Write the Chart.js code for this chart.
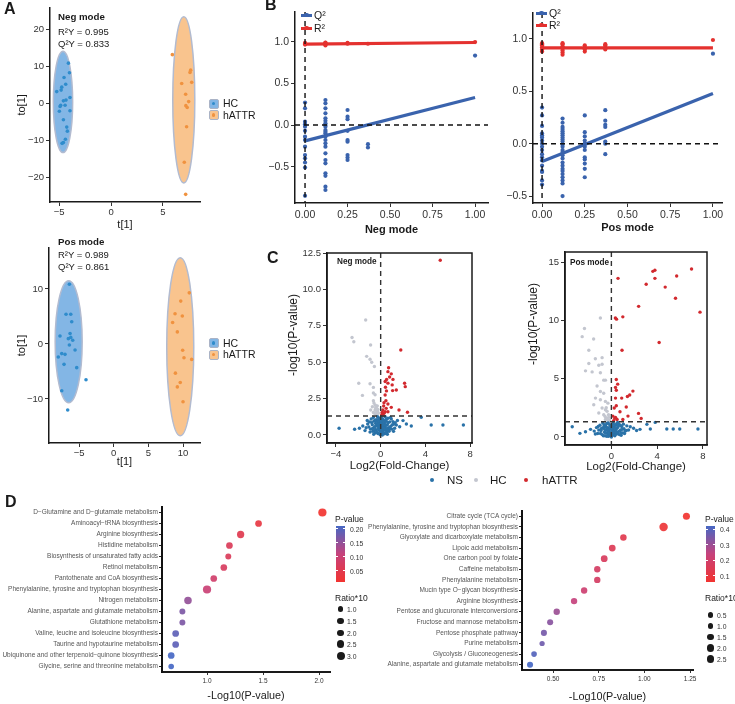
<!DOCTYPE html>
<html>
<head>
<meta charset="utf-8">
<title>OPLS-DA, permutation, volcano and pathway plots</title>
<script src="https://cdn.jsdelivr.net/npm/chart.js@4.4.1/dist/chart.umd.min.js"></script>
<style>
  body { margin: 0; width: 735px; height: 704px; position: relative; overflow: hidden; background: #fff; }
  canvas { position: absolute; left: 0; top: 0; }
  .t { position: absolute; white-space: nowrap; line-height: 1; color: #1a1a1a; }
</style>
</head>
<body>
<script>
// ---- A: OPLS-DA scores ----
const negHC_t = [-4.1, -4.0, -4.52, -4.74, -4.8, -4.36, -5.22, -4.58, -4.33, -3.95, -4.84, -4.9, -4.42, -4.97, -3.95, -4.58, -4.26, -4.2, -4.39, -4.58, -4.71]
const negHC_to = [10.9, 8.3, 7.0, 4.4, 3.6, 5.2, 3.2, 0.7, 0.9, 1.6, -0.5, -0.8, -0.5, -2.1, -2.0, -4.4, -6.4, -7.5, -9.7, -10.6, -10.8]
const negAT_t = [5.9, 7.66, 7.6, 6.8, 7.76, 7.18, 7.47, 7.2, 7.33, 7.27, 7.05, 7.18]
const negAT_to = [13.2, 9.0, 8.4, 5.4, 5.7, 2.5, 0.5, -0.6, -1.1, -6.3, -15.9, -24.6]
const posHC_t = [-6.4, -6.88, -6.2, -6.06, -7.75, -6.3, -6.55, -5.92, -6.2, -6.4, -5.58, -7.5, -7.03, -8.0, -7.17, -5.34, -4.0, -7.5, -6.64]
const posHC_to = [10.85, 5.4, 5.4, 4.05, 1.45, 1.9, 0.97, 0.67, 1.2, -0.18, -1.1, -1.75, -1.88, -2.36, -3.7, -4.3, -6.5, -8.5, -12.0]
const posAT_t = [10.9, 9.67, 8.85, 9.9, 8.5, 9.18, 9.95, 10.14, 11.25, 8.9, 9.6, 9.18, 10.0]
const posAT_to = [9.3, 7.8, 5.5, 5.1, 3.9, 2.2, -1.15, -2.5, -2.8, -5.3, -7.0, -7.8, -10.5]
// confidence ellipses [centre t, centre to, half-width, half-height] for HC, hATTR
const negEllipses = [[-4.62, 0.4, 0.93, 13.7], [7.0, 0.95, 1.06, 22.5]]
const posEllipses = [[-6.5, 0.4, 1.95, 11.1], [9.6, -0.5, 1.95, 16.2]]
const negStats = ['R\u00b2Y = 0.995', 'Q\u00b2Y = 0.833']
const posStats = ['R\u00b2Y = 0.989', 'Q\u00b2Y = 0.861']
const aNegXTicks = [-5, 0, 5]
const aNegYTicks = [-20, -10, 0, 10, 20]
const aPosXTicks = [-5, 0, 5, 10]
const aPosYTicks = [-10, 0, 10]

// ---- B: permutation tests ----
const permX = [0, 0.12, 0.25, 0.37, 1]
const negQ2 = [
    [0.27, 0.2, 0.04, 0.01, -0.02, -0.07, -0.14, -0.18, -0.26, -0.36, -0.4, -0.45, -0.51, -0.85],
    [0.3, 0.26, 0.2, 0.14, 0.08, 0.05, 0.02, 0.0, -0.02, -0.06, -0.08, -0.1, -0.14, -0.18, -0.22, -0.26, -0.34, -0.42, -0.46, -0.58, -0.61, -0.74, -0.78],
    [0.18, 0.1, 0.07, -0.07, -0.18, -0.2, -0.36, -0.39, -0.42],
    [-0.23, -0.27],
    [0.833]
]
const negR2 = [[0.965, 0.975, 0.985], [0.955, 0.965, 0.975, 0.985, 0.99], [0.975, 0.985], [0.975], [0.995]]
const negFitQ2 = [-0.19, 0.33]
const negFitR2 = [0.97, 0.99]
const posQ2 = [
    [0.345, 0.27, 0.17, 0.1, 0.08, 0.06, 0.03, 0.0, -0.03, -0.06, -0.1, -0.13, -0.16, -0.21, -0.26, -0.27, -0.35, -0.39],
    [0.24, 0.2, 0.16, 0.14, 0.12, 0.1, 0.08, 0.06, 0.04, 0.02, -0.01, -0.03, -0.06, -0.08, -0.11, -0.14, -0.18, -0.21, -0.24, -0.26, -0.29, -0.32, -0.35, -0.38, -0.5],
    [0.27, 0.11, 0.07, 0.03, 0.0, -0.03, -0.06, -0.13, -0.15, -0.19, -0.24, -0.32],
    [0.32, 0.22, 0.18, 0.16, 0.02, 0.0, -0.1],
    [0.86]
]
const posR2 = [[0.88, 0.9, 0.92, 0.94, 0.95, 0.96], [0.85, 0.87, 0.89, 0.91, 0.93, 0.95, 0.96], [0.88, 0.9, 0.92, 0.94], [0.9, 0.92, 0.94, 0.95], [0.99]]
const posFitQ2 = [-0.17, 0.48]
const posFitR2 = [0.915, 0.915]
const bXTicks = [0, 0.25, 0.5, 0.75, 1]
const bYTicks = [-0.5, 0, 0.5, 1]

// ---- C: volcano plots, [log2 fold change, -log10 p] ----
const negNS = [[-3.72, 0.46], [-2.33, 0.39], [-1.9, 0.46], [-1.6, 0.62], [-1.16, 0.76], [-1.3, 0.5], [-1.0, 0.9], [-0.9, 0.4], [-0.85, 1.1], [-0.75, 0.7], [-0.7, 0.25], [-0.65, 1.2], [-0.6, 0.95], [-0.55, 0.55], [-0.5, 0.15], [-0.45, 0.8], [-0.4, 1.05], [-0.38, 0.35], [-0.3, 0.6], [-0.28, 1.25], [-0.25, 0.1], [-0.2, 0.85], [-0.18, 0.45], [-0.12, 1.15], [-0.1, 0.3], [-0.08, 0.7], [-0.05, 0.02], [-0.03, 0.95], [0.0, 0.5], [0.03, 0.2], [0.05, 1.2], [0.08, 0.65], [0.1, 0.05], [0.12, 0.9], [0.15, 0.4], [0.18, 1.1], [0.2, 0.15], [0.22, 0.75], [0.25, 0.3], [0.28, 1.0], [0.3, 0.55], [0.35, 0.08], [0.38, 0.85], [0.4, 1.25], [0.45, 0.45], [0.5, 0.35], [0.5, 0.95], [0.55, 0.2], [0.6, 0.7], [0.65, 1.15], [0.7, 0.5], [0.75, 0.25], [0.8, 0.9], [0.9, 0.6], [0.95, 1.1], [1.0, 0.4], [1.1, 0.92], [1.2, 0.75], [1.25, 0.46], [1.4, 0.69], [1.5, 1.0], [1.7, 0.57], [2.0, 0.99], [2.3, 0.76], [2.74, 0.62], [3.63, 1.22], [4.52, 0.69], [5.57, 0.69], [7.4, 0.69], [-0.15, 0.6], [0.42, 0.62], [-0.35, 0.95], [0.15, 0.0], [-0.02, 0.1], [0.6, 0.05],
    [-1.4, 0.3], [-1.2, 1.0], [-1.05, 0.55], [-0.95, 0.2], [-0.8, 0.85], [-0.72, 0.45], [-0.62, 0.05], [-0.52, 1.0], [-0.48, 0.38], [-0.42, 0.65], [-0.33, 0.18], [-0.22, 1.05], [-0.14, 0.38], [-0.06, 0.55], [0.02, 0.8], [0.06, 0.32], [0.13, 0.6], [0.17, 0.28], [0.24, 0.5], [0.27, 0.1], [0.33, 0.72], [0.37, 0.4], [0.44, 0.15], [0.48, 0.68], [0.52, 1.1], [0.58, 0.42], [0.68, 0.85], [0.72, 0.32], [0.85, 0.45], [0.88, 1.2], [1.05, 0.7], [1.15, 0.25], [1.3, 0.85], [-0.25, 0.75], [-0.58, 0.3], [0.1, 1.0], [-0.02, 0.28], [0.2, 0.95]]
const negHCv = [[-2.56, 6.7], [-2.4, 6.4], [-0.9, 6.18], [-1.25, 5.4], [-0.95, 5.2], [-0.8, 5.0], [-0.56, 4.7], [-1.96, 3.55], [-0.95, 3.52], [-0.65, 3.27], [-1.63, 2.72], [-0.65, 2.88], [-0.5, 2.76], [-0.65, 2.36], [-0.5, 2.06], [-0.74, 1.94], [-0.35, 1.83], [-0.89, 1.72], [-0.5, 1.72], [-0.27, 1.6], [-0.65, 1.54], [-0.41, 1.99], [-1.34, 7.9], [-0.45, 1.45], [-0.3, 1.4], [-0.55, 1.5],
    [-0.2, 1.5], [-0.35, 1.6], [-0.25, 1.75], [-0.45, 1.85], [-0.3, 2.0], [-0.6, 2.2]]
const negATv = [[5.33, 12.0], [1.8, 5.84], [0.71, 4.62], [0.65, 4.35], [0.95, 4.2], [0.8, 3.98], [1.1, 3.82], [0.53, 3.82], [0.4, 3.67], [0.65, 3.56], [2.14, 3.55], [2.2, 3.32], [1.03, 3.44], [0.43, 3.28], [1.4, 3.09], [1.07, 3.05], [0.52, 3.03], [0.4, 2.75], [0.47, 2.36], [0.3, 2.22], [0.65, 2.13], [0.27, 1.99], [0.5, 1.83], [1.64, 1.72], [2.4, 1.56], [0.95, 1.9], [0.2, 1.72], [0.4, 1.6], [0.65, 1.6], [0.13, 1.54], [0.3, 1.49], [0.1, 1.4], [0.22, 1.35]]
const posNS = [[-3.42, 0.88], [-2.75, 0.31], [-2.26, 0.45], [-1.82, 0.65], [-1.5, 0.5], [-1.3, 0.8], [-1.2, 0.3], [-1.0, 1.0], [-0.9, 0.55], [-0.8, 0.2], [-0.75, 1.2], [-0.7, 0.75], [-0.6, 0.4], [-0.55, 0.1], [-0.5, 0.95], [-0.45, 0.6], [-0.4, 1.15], [-0.35, 0.3], [-0.3, 0.8], [-0.25, 0.05], [-0.2, 0.5], [-0.15, 1.05], [-0.1, 0.2], [-0.05, 0.7], [0.0, 0.0], [0.02, 0.4], [0.05, 0.95], [0.1, 0.15], [0.12, 0.65], [0.15, 1.2], [0.2, 0.35], [0.25, 0.85], [0.3, 0.1], [0.35, 0.55], [0.4, 1.0], [0.45, 0.25], [0.5, 0.75], [0.6, 0.45], [0.65, 1.1], [0.7, 0.2], [0.8, 0.6], [0.9, 0.9], [1.0, 0.35], [1.1, 0.7], [1.2, 0.5], [1.35, 0.95], [1.5, 0.6], [1.65, 0.88], [1.94, 0.74], [2.2, 0.55], [2.5, 0.65], [3.1, 1.08], [3.4, 0.68], [3.83, 1.25], [4.84, 0.68], [5.4, 0.68], [5.97, 0.68], [7.56, 0.68], [-1.1, 0.6], [0.55, 1.25], [-0.65, 0.9], [0.3, 0.45], [-0.15, 0.25], [0.85, 0.15],
    [-1.4, 0.25], [-1.15, 0.9], [-0.95, 0.3], [-0.85, 0.75], [-0.7, 0.1], [-0.62, 1.05], [-0.5, 0.35], [-0.42, 0.8], [-0.32, 0.55], [-0.28, 1.2], [-0.18, 0.3], [-0.08, 0.9], [-0.02, 0.15], [0.04, 0.6], [0.08, 1.1], [0.14, 0.25], [0.18, 0.8], [0.22, 0.5], [0.28, 1.05], [0.32, 0.2], [0.38, 0.7], [0.42, 0.4], [0.48, 1.15], [0.55, 0.3], [0.6, 0.9], [0.72, 0.5], [0.78, 1.0], [0.88, 0.35], [0.95, 0.65], [1.05, 1.1], [1.15, 0.3], [1.3, 0.55], [-0.55, 0.6], [-0.22, 0.65], [0.1, 0.4], [-0.4, 0.05]]
const posHCv = [[-0.96, 10.2], [-2.35, 9.3], [-2.55, 8.6], [-1.55, 8.4], [-1.97, 7.44], [-0.81, 6.8], [-1.4, 6.7], [-1.97, 6.3], [-1.1, 6.15], [-0.81, 6.24], [-2.26, 5.67], [-1.68, 5.58], [-0.96, 5.5], [-0.67, 4.87], [-0.52, 4.87], [-1.25, 4.37], [-0.96, 3.9], [-0.67, 3.75], [-1.39, 3.33], [-0.96, 3.19], [-0.52, 3.05], [-1.54, 2.76], [-0.81, 2.48], [-0.52, 2.33], [-1.1, 2.05], [-0.67, 1.9], [-0.38, 2.2], [-0.23, 1.68], [-0.52, 1.5], [-0.3, 1.4], [-0.15, 1.45],
    [-0.2, 1.35], [-0.4, 1.6], [-0.25, 1.9], [-0.55, 1.75], [-0.45, 2.5], [-0.3, 2.9]]
const posATv = [[0.58, 13.6], [3.62, 14.2], [3.8, 14.3], [3.8, 13.6], [3.04, 13.1], [4.7, 12.85], [5.7, 13.8], [7.0, 14.4], [5.6, 11.9], [2.38, 11.2], [7.74, 10.7], [0.35, 10.2], [0.45, 10.1], [1.0, 10.3], [4.17, 8.1], [0.93, 7.44], [0.43, 4.93], [0.55, 4.53], [0.36, 4.25], [0.43, 4.0], [1.88, 3.93], [1.6, 3.6], [1.4, 3.47], [0.9, 3.33], [0.36, 3.33], [0.43, 2.68], [1.3, 2.57], [0.25, 2.48], [2.37, 2.02], [0.75, 2.16], [0.13, 1.79], [1.45, 1.79], [1.0, 1.5], [2.6, 1.59], [0.36, 1.68], [0.5, 1.5], [0.2, 1.4], [0.3, 1.6]]
const pCut = 1.3
const cXTicks = [-4, 0, 4, 8]
const cNegYTicks = [0, 2.5, 5, 7.5, 10, 12.5]
const cPosXTicks = [0, 4, 8]
const cPosYTicks = [0, 5, 10, 15]
const volcanoGroups = ['NS', 'HC', 'hATTR']

// ---- D: pathway enrichment ----
const negPath = ['D\u2212Glutamine and D\u2212glutamate metabolism', 'Aminoacyl\u2212tRNA biosynthesis', 'Arginine biosynthesis', 'Histidine metabolism', 'Biosynthesis of unsaturated fatty acids', 'Retinol metabolism', 'Pantothenate and CoA biosynthesis', 'Phenylalanine, tyrosine and tryptophan biosynthesis', 'Nitrogen metabolism', 'Alanine, aspartate and glutamate metabolism', 'Glutathione metabolism', 'Valine, leucine and isoleucine biosynthesis', 'Taurine and hypotaurine metabolism', 'Ubiquinone and other terpenoid\u2212quinone biosynthesis', 'Glycine, serine and threonine metabolism']
const negLogP = [2.03, 1.46, 1.30, 1.20, 1.19, 1.15, 1.06, 1.00, 0.83, 0.78, 0.78, 0.72, 0.72, 0.68, 0.68]
const negRatio = [3.2, 1.9, 2.4, 1.9, 1.3, 1.9, 1.9, 3.2, 2.6, 1.3, 1.3, 1.9, 1.9, 1.9, 1.0]
const posPath = ['Citrate cycle (TCA cycle)', 'Phenylalanine, tyrosine and tryptophan biosynthesis', 'Glyoxylate and dicarboxylate metabolism', 'Lipoic acid metabolism', 'One carbon pool by folate', 'Caffeine metabolism', 'Phenylalanine metabolism', 'Mucin type O\u2212glycan biosynthesis', 'Arginine biosynthesis', 'Pentose and glucuronate interconversions', 'Fructose and mannose metabolism', 'Pentose phosphate pathway', 'Purine metabolism', 'Glycolysis / Gluconeogenesis', 'Alanine, aspartate and glutamate metabolism']
const posLogP = [1.23, 1.105, 0.885, 0.824, 0.78, 0.742, 0.742, 0.67, 0.615, 0.52, 0.484, 0.45, 0.44, 0.396, 0.374]
const posRatio = [1.9, 2.9, 1.5, 1.7, 1.7, 1.4, 1.4, 1.4, 1.4, 1.4, 1.2, 1.2, 0.6, 0.9, 1.2]
const dNegXTicks = [1.0, 1.5, 2.0]
const dPosXTicks = [0.5, 0.75, 1.0, 1.25]
const negPLegend = [0.05, 0.10, 0.15, 0.20]
const posPLegend = [0.1, 0.2, 0.3, 0.4]
const negRatioLegend = [1.0, 1.5, 2.0, 2.5, 3.0]
const posRatioLegend = [0.5, 1.0, 1.5, 2.0, 2.5]

// ---------------------------------------------------------------
const FONT = '"Liberation Sans", Arial, sans-serif'
const HC_BLUE = '#2f8ccc', AT_ORANGE = '#f0923f'
const Q_BLUE = '#3a63ad', R_RED = '#e4312f'
const NS_COL = '#2a72a8', HC_GREY = '#c3c6cf', AT_RED = '#d2292e'

Chart.defaults.font.family = FONT
Chart.defaults.animation = false
Chart.defaults.plugins.legend.display = false
Chart.defaults.plugins.tooltip.enabled = false

function fmt(v, d) {
    const s = Math.abs(v).toFixed(d)
    return v < -1e-9 ? '\u2212' + s : s
}

function linAxis(o) {
    return {
        size: o.size,
        cfg: {
            type: 'linear', min: o.min, max: o.max,
            grid: {display: true, drawOnChartArea: false, drawTicks: true, tickLength: o.tickLen || 4, color: '#333'},
            border: {display: true, color: '#1a1a1a', width: o.bw || 1.5},
            ticks: {font: {size: o.fs}, color: '#333', padding: o.pad === undefined ? 2 : o.pad, autoSkip: false, maxRotation: 0,
                callback: (v) => fmt(v, o.digits)},
            afterBuildTicks: (s) => { s.ticks = o.ticks.map((v) => ({value: v})) },
            afterFit: (s) => { if (s.isHorizontal()) { s.height = o.size } else { s.width = o.size } },
            title: o.title ? {display: true, text: o.title, color: '#1a1a1a', padding: {top: 4, bottom: 4},
                font: {size: o.titleSize, weight: o.titleWeight || 'normal'}} : {display: false}
        }
    }
}
// axis size that puts the axis title centre at a given distance from the plot edge
function titleSize(dist, fs) { return dist + 0.6 * fs + 4 }

function catAxis(labels, size) {
    return {
        size: size,
        cfg: {
            type: 'category', labels: labels, offset: true,
            grid: {display: true, drawOnChartArea: false, tickLength: 3, color: '#222', offset: false},
            border: {display: true, color: '#111', width: 2},
            ticks: {font: {size: 6.5}, color: '#555', padding: 1, autoSkip: false},
            afterFit: (s) => { s.width = size }
        }
    }
}

function makeChart(box, xa, ya, datasets, plugins) {
    const c = document.createElement('canvas')
    c.width = 735
    c.height = 704
    document.body.appendChild(c)
    return new Chart(c, {
        type: 'scatter',
        data: {datasets: datasets},
        options: {
            responsive: false, animation: false, devicePixelRatio: 1,
            layout: {padding: {left: box.l - ya.size, top: box.t, right: 735 - box.r, bottom: 704 - box.b - xa.size}},
            scales: {x: xa.cfg, y: ya.cfg}
        },
        plugins: plugins || []
    })
}

function pts(xs, ys) { return xs.map((x, i) => ({x: x, y: ys[i]})) }
function pairs(arr) { return arr.map((p) => ({x: p[0], y: p[1]})) }
function dots(data, color, r) {
    return {data: data, pointRadius: r, pointBackgroundColor: color, backgroundColor: color, pointBorderWidth: 0}
}

function label(text, x, y, o) {
    const d = document.createElement('div')
    d.className = 't'
    d.textContent = text
    d.style.left = x + 'px'
    d.style.top = y + 'px'
    d.style.font = (o.weight || 'normal') + ' ' + o.size + 'px ' + FONT
    if (o.color) d.style.color = o.color
    if (o.rot) {
        d.style.transform = 'translate(-50%, -50%) rotate(-90deg)'
    } else {
        const ax = o.align === 'center' ? '-50%' : o.align === 'right' ? '-100%' : '0'
        d.style.transform = 'translate(' + ax + ', -50%)'
    }
    document.body.appendChild(d)
}
function shape(x, y, w, h, css) {
    const d = document.createElement('div')
    d.style.cssText = 'position:absolute;left:' + x + 'px;top:' + y + 'px;width:' + w + 'px;height:' + h + 'px;' + css
    document.body.appendChild(d)
}
function dot(cx, cy, r, col) { shape(cx - r, cy - r, 2 * r, 2 * r, 'border-radius:50%;background:' + col) }

// ---- plugins ----
const ELL_FILL = ['rgba(118,174,226,0.9)', 'rgba(248,190,130,0.9)']
function ellipsePlugin(ells) {
    return {id: 'ellipses', beforeDatasetsDraw(chart) {
        const {ctx, scales: {x, y}} = chart
        ells.forEach((e, i) => {
            const cx = x.getPixelForValue(e[0]), cy = y.getPixelForValue(e[1])
            const rx = Math.abs(x.getPixelForValue(e[0] + e[2]) - cx)
            const ry = Math.abs(y.getPixelForValue(e[1] + e[3]) - cy)
            ctx.save()
            ctx.beginPath()
            ctx.ellipse(cx, cy, rx, ry, 0, 0, 2 * Math.PI)
            ctx.fillStyle = ELL_FILL[i]
            ctx.fill()
            ctx.lineWidth = 1.5
            ctx.strokeStyle = '#b2bbd0'
            ctx.stroke()
            ctx.restore()
        })
    }}
}
function refLines(xv, yv, color, frame) {
    return {id: 'refs', afterDatasetsDraw(chart) {
        const {ctx, chartArea: a, scales: {x, y}} = chart
        ctx.save()
        ctx.strokeStyle = color
        ctx.lineWidth = 1.4
        ctx.setLineDash([5, 4])
        const px = x.getPixelForValue(xv), py = y.getPixelForValue(yv)
        ctx.beginPath(); ctx.moveTo(px, a.top); ctx.lineTo(px, a.bottom); ctx.stroke()
        ctx.beginPath(); ctx.moveTo(a.left, py); ctx.lineTo(a.right, py); ctx.stroke()
        ctx.setLineDash([])
        if (frame) {
            ctx.strokeStyle = '#1a1a1a'
            ctx.lineWidth = 1.5
            ctx.strokeRect(a.left, a.top, a.right - a.left, a.bottom - a.top)
        }
        ctx.restore()
    }}
}

// ---- A ----
function panelA(box, xr, yr, xt, yt, hcT, hcTo, atT, atTo, ells, titleY) {
    makeChart(box,
        linAxis({min: xr[0], max: xr[1], ticks: xt, digits: 0, size: titleSize(titleY - box.b, 11), fs: 9.5, pad: 1,
            title: 't[1]', titleSize: 11}),
        linAxis({min: yr[0], max: yr[1], ticks: yt, digits: 0, size: titleSize(box.l - 22, 11), fs: 9.5,
            title: 'to[1]', titleSize: 11}),
        [dots(pts(hcT, hcTo), HC_BLUE, 1.8), dots(pts(atT, atTo), AT_ORANGE, 1.8)],
        [ellipsePlugin(ells)])
}
panelA({l: 50, r: 200, t: 5, b: 202}, [-5.87, 8.56], [-26.67, 25.9], aNegXTicks, aNegYTicks,
    negHC_t, negHC_to, negAT_t, negAT_to, negEllipses, 225)
panelA({l: 49, r: 200, t: 248, b: 443}, [-9.34, 12.45], [-18.0, 17.45], aPosXTicks, aPosYTicks,
    posHC_t, posHC_to, posAT_t, posAT_to, posEllipses, 462)

// ---- B ----
function panelB(box, xr, yr, name, q2, r2, fitQ2, fitR2, titleY) {
    const flat = (arr) => permX.flatMap((x, i) => arr[i].map((v) => ({x: x, y: v})))
    const line = (vals, col) => ({data: [{x: 0, y: vals[0]}, {x: 1, y: vals[1]}], showLine: true,
        borderColor: col, borderWidth: 3.2, pointRadius: 0})
    makeChart(box,
        linAxis({min: xr[0], max: xr[1], ticks: bXTicks, digits: 2, size: titleSize(titleY - box.b, 11), fs: 10.5,
            title: name, titleSize: 11, titleWeight: 'bold'}),
        linAxis({min: yr[0], max: yr[1], ticks: bYTicks, digits: 1, size: 40, fs: 10.5}),
        [dots(flat(q2), Q_BLUE, 2.1), dots(flat(r2), R_RED, 2.1), line(fitQ2, Q_BLUE), line(fitR2, R_RED)],
        [refLines(0, 0, '#111', false)])
}
panelB({l: 295, r: 488, t: 12, b: 203}, [-0.059, 1.076], [-0.936, 1.356], 'Neg mode', negQ2, negR2, negFitQ2, negFitR2, 230)
panelB({l: 533, r: 722, t: 13, b: 203}, [-0.053, 1.053], [-0.566, 1.248], 'Pos mode', posQ2, posR2, posFitQ2, posFitR2, 228)

// ---- C ----
function panelC(box, xr, yr, xt, yt, yd, ns, hc, at, titleY) {
    makeChart(box,
        linAxis({min: xr[0], max: xr[1], ticks: xt, digits: 0, size: titleSize(titleY - box.b, 11.5), fs: 9.5,
            title: 'Log2(Fold-Change)', titleSize: 11.5}),
        linAxis({min: yr[0], max: yr[1], ticks: yt, digits: yd, size: 30, fs: 9.5}),
        [dots(pairs(ns), NS_COL, 1.7), dots(pairs(hc), HC_GREY, 1.7), dots(pairs(at), AT_RED, 1.7)],
        [refLines(0, pCut, '#333', true)])
}
panelC({l: 327, r: 472, t: 253, b: 443}, [-4.8, 8.17], [-0.55, 12.5], cXTicks, cNegYTicks, 1, negNS, negHCv, negATv, 466)
panelC({l: 565, r: 707, t: 252, b: 445}, [-4.05, 8.35], [-0.69, 15.86], cPosXTicks, cPosYTicks, 0, posNS, posHCv, posATv, 467)
label('-log10(P-value)', 293, 335, {size: 12, rot: true})
label('-log10(P-value)', 533, 324, {size: 12, rot: true})

// ---- D ----
const LOW = [242, 52, 48], MID = [198, 66, 124], HIGH = [70, 104, 196]
function pcol(t, a) {
    t = Math.max(0, Math.min(1, t))
    const seg = t < 0.5 ? [LOW, MID, t / 0.5] : [MID, HIGH, (t - 0.5) / 0.5]
    const c = seg[0].map((v, i) => Math.round(v + (seg[1][i] - v) * seg[2]))
    return 'rgba(' + c[0] + ',' + c[1] + ',' + c[2] + ',' + a + ')'
}
function panelD(box, xr, xt, xd, paths, logP, ratio, rBase, rScale, labelW, titleY) {
    const ps = logP.map((v) => Math.pow(10, -v))
    const pmin = Math.min(...ps), pmax = Math.max(...ps)
    makeChart(box,
        linAxis({min: xr[0], max: xr[1], ticks: xt, digits: xd, size: titleSize(titleY - box.b, 10.8), fs: 6.5,
            tickLen: 3, bw: 2, title: '-Log10(P-value)', titleSize: 10.8}),
        catAxis(paths, labelW),
        [{data: paths.map((n, i) => ({x: logP[i], y: n})), pointBorderWidth: 0,
            pointRadius: (c) => rBase + rScale * ratio[c.dataIndex],
            pointBackgroundColor: (c) => pcol((ps[c.dataIndex] - pmin) / (pmax - pmin), 0.92)}])
    return [pmin, pmax]
}
function dLegend(x, range, pTicks, pDigits, rTicks, rBase, rScale, dotY) {
    const top = 526, h = 56
    label('P-value', x, 519, {size: 8.5})
    shape(x + 1, top, 9, h, 'background:linear-gradient(to bottom,' + pcol(1, 1) + ',' + pcol(0.5, 1) + ',' + pcol(0, 1) + ')')
    pTicks.forEach((p) => {
        const y = top + h - (p - range[0]) / (range[1] - range[0]) * h
        shape(x + 1, y - 0.5, 2, 1, 'background:#fff')
        shape(x + 8, y - 0.5, 2, 1, 'background:#fff')
        label(p.toFixed(pDigits), x + 15, y, {size: 6.8, color: '#333'})
    })
    label('Ratio*10', x, 598, {size: 8.5})
    rTicks.forEach((r, i) => {
        dot(x + 5.5, dotY[i], rBase + rScale * r, '#1a1a1a')
        label(r.toFixed(1), x + 12, dotY[i], {size: 6.8, color: '#333'})
    })
}
const negRange = panelD({l: 162, r: 330, t: 507, b: 672}, [0.598, 2.098], dNegXTicks, 1, negPath, negLogP, negRatio, 2.2, 0.6, 162, 696)
const posRange = panelD({l: 522, r: 693, t: 511, b: 670}, [0.33, 1.266], dPosXTicks, 2, posPath, posLogP, posRatio, 2.2, 0.7, 172, 697)
dLegend(335, negRange, negPLegend, 2, negRatioLegend, 2.2, 0.6, [609, 621, 633, 644, 656])
dLegend(705, posRange, posPLegend, 1, posRatioLegend, 2.2, 0.7, [615, 626, 637, 648, 659])

// ---- text, legends ----
label('A', 4, 9, {size: 16, weight: 'bold'})
label('B', 265, 5, {size: 16, weight: 'bold'})
label('C', 267, 258, {size: 16, weight: 'bold'})
label('D', 5, 502, {size: 16, weight: 'bold'})

label('Neg mode', 58, 16, {size: 9.7, weight: 'bold'})
label(negStats[0], 58, 31, {size: 9.5})
label(negStats[1], 58, 43, {size: 9.5})
label('Pos mode', 58, 241, {size: 9.7, weight: 'bold'})
label(posStats[0], 58, 254, {size: 9.5})
label(posStats[1], 58, 266, {size: 9.5})

function aLegend(y1, y2) {
    shape(209, y1 - 4.5, 8, 8, 'background:' + ELL_FILL[0] + ';border:1px solid #aab3c6;border-radius:2px')
    dot(213.5, y1 + 0.5, 1.6, HC_BLUE)
    shape(209, y2 - 4.5, 8, 8, 'background:' + ELL_FILL[1] + ';border:1px solid #aab3c6;border-radius:2px')
    dot(213.5, y2 + 0.5, 1.6, AT_ORANGE)
    label('HC', 223, y1, {size: 10.5})
    label('hATTR', 223, y2, {size: 10.5})
}
aLegend(103, 114.5)
aLegend(342.5, 354)

function bLegend(x, y1, y2) {
    shape(x, y1 - 1.5, 11, 3, 'background:' + Q_BLUE)
    dot(x + 5.5, y1, 2.2, Q_BLUE)
    label('Q\u00b2', x + 13, y1, {size: 10.5})
    shape(x, y2 - 1.5, 11, 3, 'background:' + R_RED)
    dot(x + 5.5, y2, 2.2, R_RED)
    label('R\u00b2', x + 13, y2, {size: 10.5})
}
bLegend(301, 15, 28)
bLegend(536, 13, 25)

label('Neg mode', 337, 261, {size: 8.2, weight: 'bold'})
label('Pos mode', 570, 262, {size: 8.2, weight: 'bold'})

const cLegendX = [[432, 447], [476, 490], [526, 542]]
const cLegendCol = [NS_COL, HC_GREY, AT_RED]
volcanoGroups.forEach((g, i) => {
    dot(cLegendX[i][0], 480, 2, cLegendCol[i])
    label(g, cLegendX[i][1], 480, {size: 11.5})
})
</script>
</body>
</html>
